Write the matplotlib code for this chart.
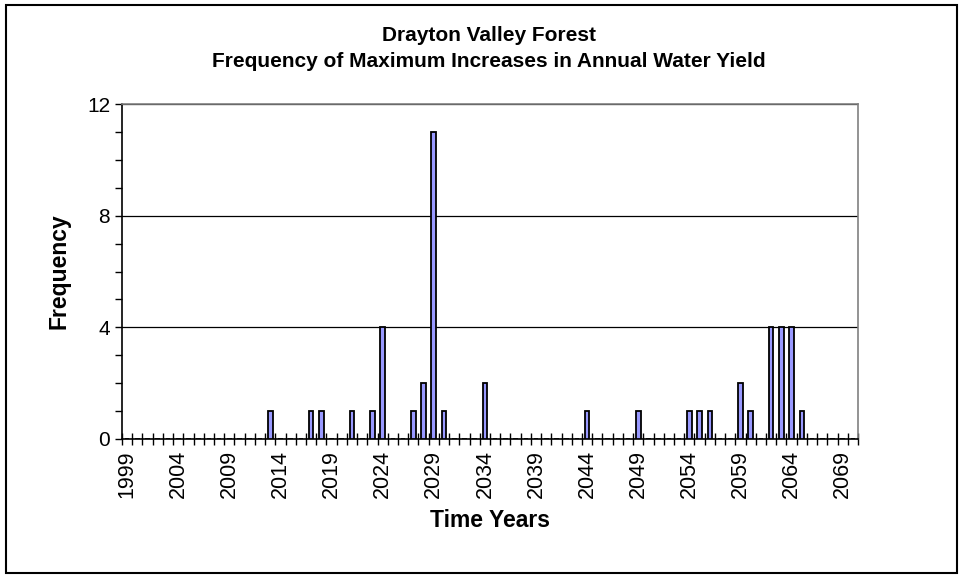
import matplotlib.pyplot as plt
from matplotlib.patches import Rectangle
from matplotlib.ticker import FixedLocator, MultipleLocator

plt.rcParams['font.family'] = ['Liberation Sans', 'DejaVu Sans']

years = list(range(1999, 2071))
peak_years = [2013, 2017, 2018, 2021, 2023, 2024, 2027, 2028, 2029, 2030, 2034,
              2044, 2049, 2054, 2055, 2056, 2059, 2060, 2062, 2063, 2064, 2065]
peak_counts = [1, 1, 1, 1, 1, 4, 1, 2, 11, 1, 2,
               1, 1, 1, 1, 1, 2, 1, 4, 4, 4, 1]
tick_years = list(range(1999, 2071, 5))


def main():
    counts = dict(zip(peak_years, peak_counts))
    freq = [counts.get(y, 0) for y in years]
    pos = list(range(len(years)))

    fig = plt.figure(figsize=(9.63, 5.78), dpi=100)
    fig.patches.append(Rectangle((0.006, 0.009), 0.988, 0.982, transform=fig.transFigure,
                                 fill=False, edgecolor='black', linewidth=1.5))
    ax = fig.add_axes([0.1267, 0.2405, 0.7643, 0.5795])

    ax.bar(pos, freq, width=0.45, color='#9999FF', edgecolor='black', linewidth=1.3, zorder=3)

    ax.set_xlim(-0.5, len(years) - 0.5)
    ax.set_ylim(0, 12)
    ax.yaxis.set_major_locator(MultipleLocator(4))
    ax.yaxis.set_minor_locator(MultipleLocator(1))
    ax.grid(axis='y', which='major', color='black', linewidth=0.9, zorder=1)

    ax.set_xticks([years.index(y) for y in tick_years])
    ax.set_xticklabels([str(y) for y in tick_years], rotation=90, fontsize=15.5)
    ax.xaxis.set_minor_locator(FixedLocator([i - 0.5 for i in range(len(years) + 1)]))
    ax.tick_params(axis='x', which='major', length=0, pad=8)
    ax.tick_params(axis='x', which='minor', direction='inout', length=8, width=1)
    ax.tick_params(axis='y', which='both', direction='out', length=5, width=1, labelsize=15)

    for s in ['left', 'bottom']:
        ax.spines[s].set_color('black')
        ax.spines[s].set_linewidth(1.2)
    for s in ['top', 'right']:
        ax.spines[s].set_color('#808080')
        ax.spines[s].set_linewidth(1.2)

    ax.set_xlabel('Time Years', fontsize=16.5, fontweight='bold', labelpad=8)
    ax.set_ylabel('Frequency', fontsize=16.5, fontweight='bold', labelpad=12)
    fig.text(0.508, 0.916, 'Drayton Valley Forest\nFrequency of Maximum Increases in Annual Water Yield',
             ha='center', va='center', fontsize=15, fontweight='bold', linespacing=1.5)

    fig.savefig('out.png', dpi=100)


if __name__ == "__main__":
    main()
